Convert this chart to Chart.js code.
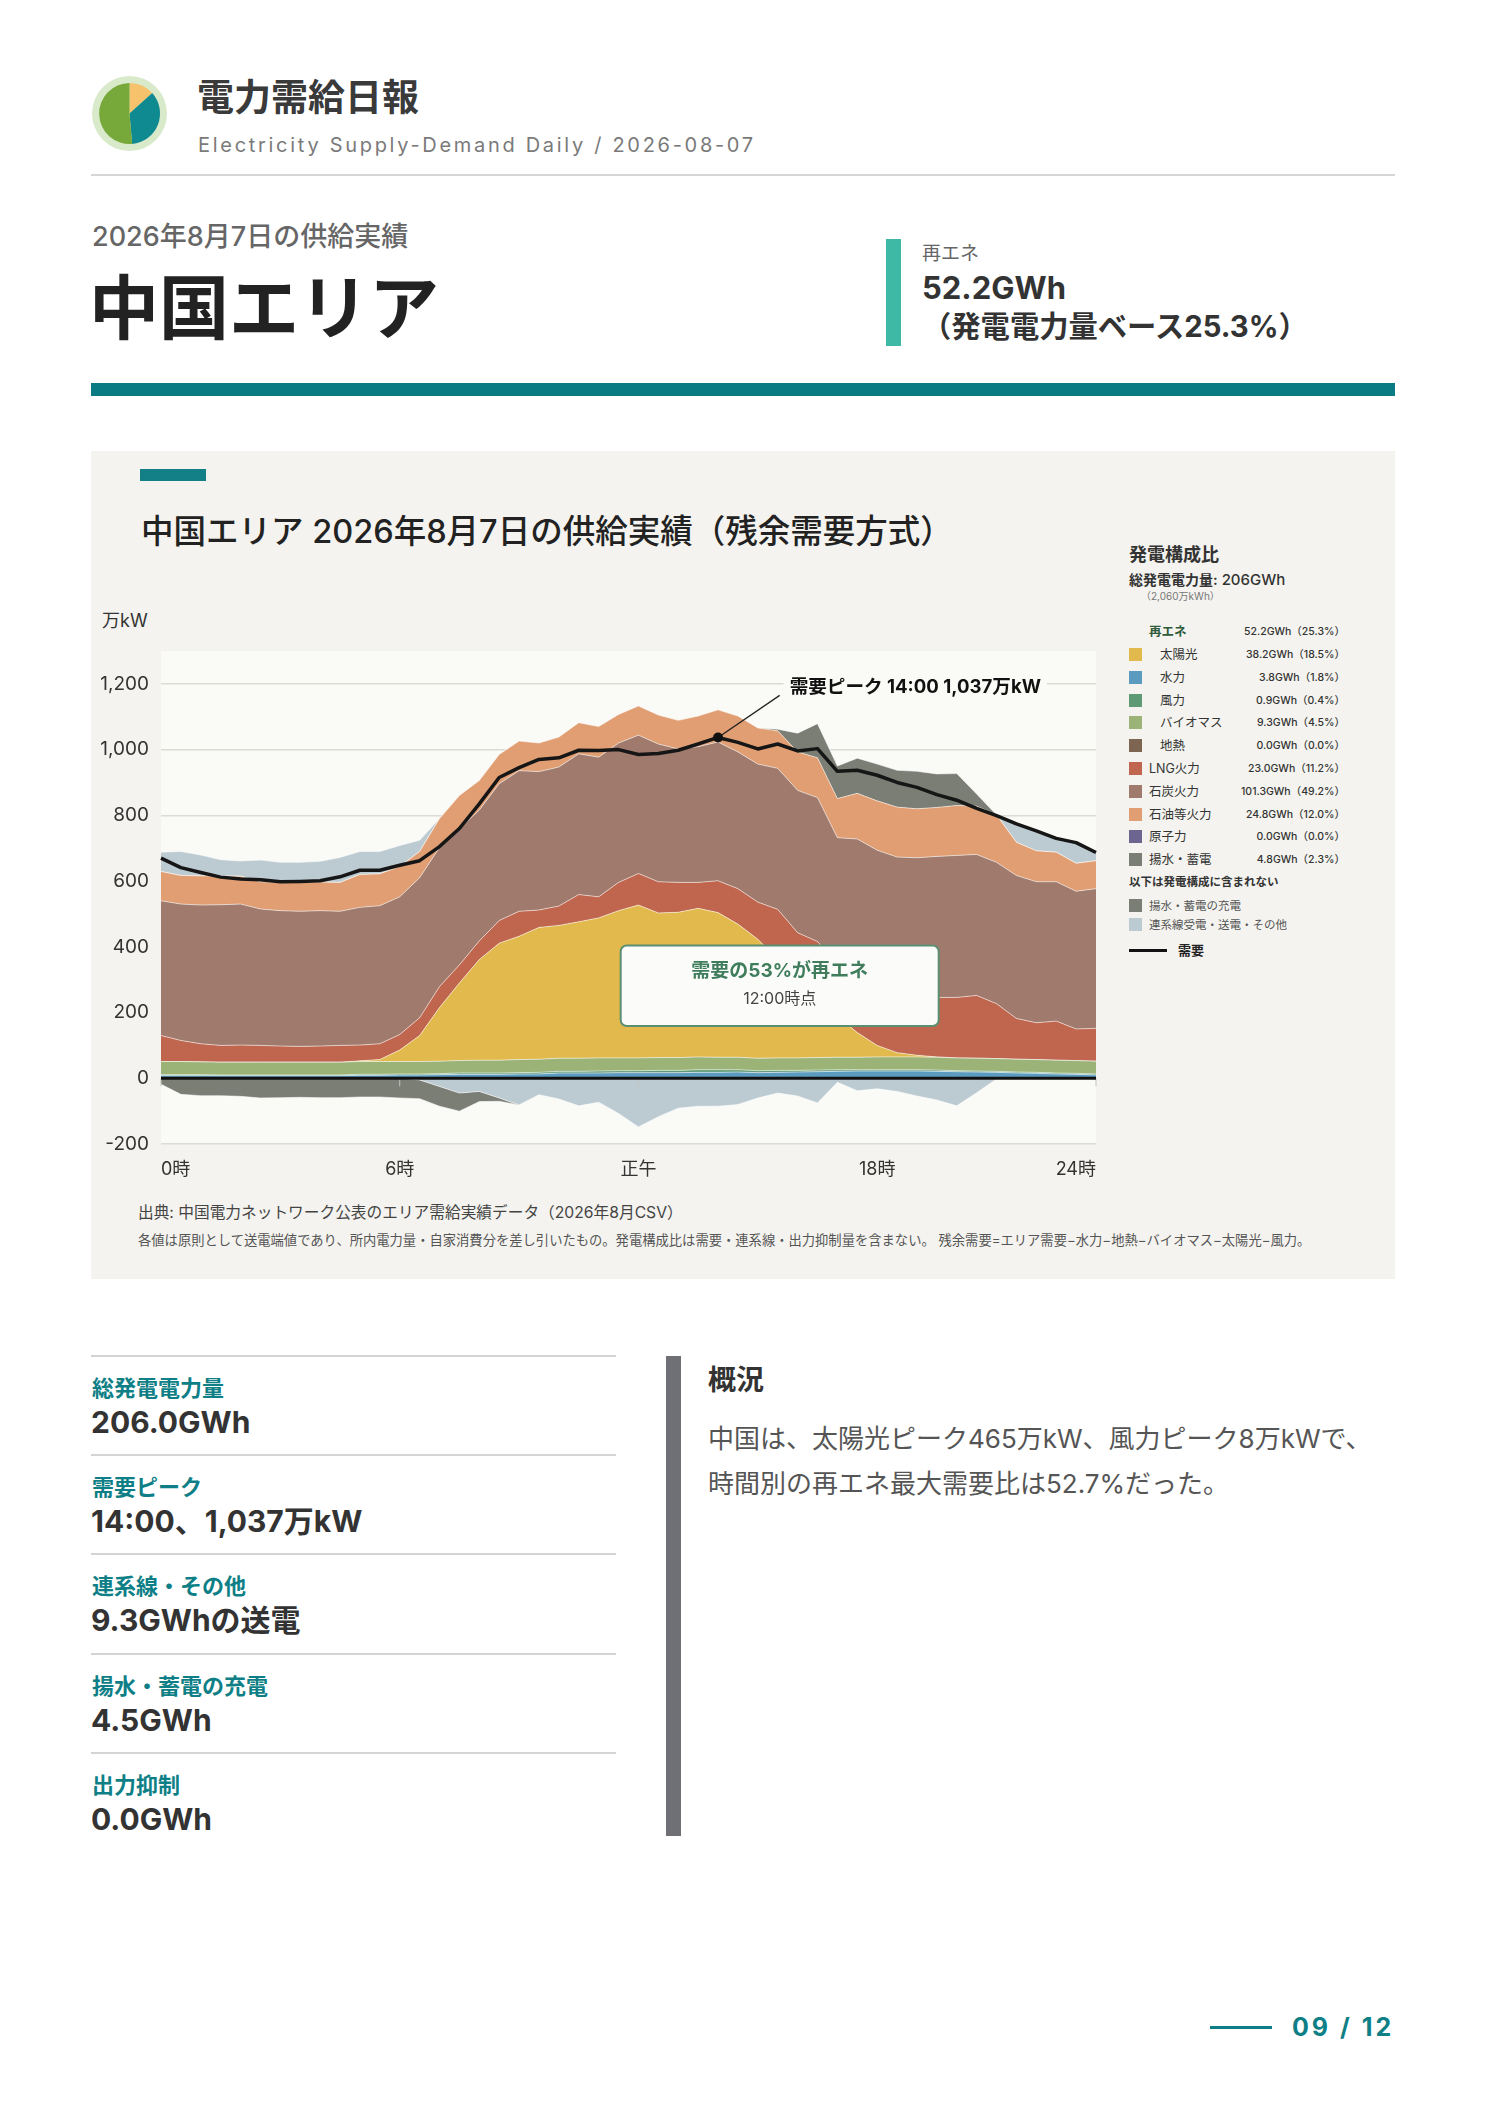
<!DOCTYPE html>
<html lang="ja">
<head>
<meta charset="utf-8">
<title>電力需給日報 中国エリア</title>
<script src="https://cdn.jsdelivr.net/npm/chart.js@4.4.1/dist/chart.umd.min.js"></script>
<style>
body { margin: 0; background: #fff; font-family: "Inter", "Noto Sans CJK JP", "Noto Sans", sans-serif; color: #333; }
.page { position: relative; width: 1488px; height: 2105px; overflow: hidden; background: #fff; }
.abs { position: absolute; white-space: nowrap; }
.panel { position: absolute; left: 91px; top: 451px; width: 1304px; height: 828px; background: #f4f3ef; }
#chartBox { position: absolute; left: 91px; top: 595px; width: 1022px; height: 595px; }
.lg-row { position: absolute; left: 1129px; width: 216px; height: 22px; font-size: 12.5px; line-height: 22px; color: #333; }
.lg-sw { position: absolute; left: 0; top: 4px; width: 13px; height: 13px; }
.lg-val { position: absolute; right: 0; top: 0; font-size: 10.5px; font-weight: 500; }
.stat-line { position: absolute; left: 91px; width: 525px; height: 2px; background: #d4d4d4; }
.stat-lbl { position: absolute; left: 92px; font-size: 22px; line-height: 30px; font-weight: 700; color: #0e7f86; white-space: nowrap; }
.stat-val { position: absolute; left: 91px; font-size: 30px; line-height: 38px; font-weight: 700; color: #333; white-space: nowrap; }
</style>
</head>
<body>
<div class="page">

  <svg class="abs" style="left:92px; top:76px;" width="75" height="75" viewBox="0 0 76 76">
    <circle cx="38" cy="38" r="38" fill="#d9eacb"/>
    <path d="M38 38 L38 7 A31 31 0 0 1 61.0 17.3 Z" fill="#f6c26b"/>
    <path d="M38 38 L61.0 17.3 A31 31 0 0 1 40.7 68.9 Z" fill="#0f8a90"/>
    <path d="M38 38 L40.7 68.9 A31 31 0 1 1 38 7 Z" fill="#77a93a"/>
  </svg>
  <div class="abs" style="left:197px; top:74px; font-size:37px; line-height:48px; font-weight:700; color:#3a3a3a;">電力需給日報</div>
  <div class="abs" style="left:198px; top:131px; font-size:20px; line-height:28px; letter-spacing:2.7px; color:#7a7a7a;">Electricity Supply-Demand Daily / 2026-08-07</div>
  <div class="abs" style="left:91px; top:174px; width:1304px; height:2px; background:#d6d6d6;"></div>

  <div class="abs" style="left:92px; top:219px; font-size:27px; line-height:36px; font-weight:500; color:#666;">2026年8月7日の供給実績</div>
  <div class="abs" style="left:89px; top:267px; font-size:70px; line-height:84px; font-weight:700; color:#222;">中国エリア</div>

  <div class="abs" style="left:886px; top:239px; width:15px; height:107px; background:#3db9a6;"></div>
  <div class="abs" style="left:922px; top:241px; font-size:19px; line-height:26px; color:#666;">再エネ</div>
  <div class="abs" style="left:922px; top:268px; font-size:31px; line-height:40px; font-weight:700; color:#333;">52.2GWh</div>
  <div class="abs" style="left:922px; top:308px; font-size:29.3px; line-height:38px; font-weight:700; color:#333;">（発電電力量ベース25.3%）</div>

  <div class="abs" style="left:91px; top:383px; width:1304px; height:13px; background:#0a7b82;"></div>

  <div class="panel"></div>
  <div class="abs" style="left:140px; top:469px; width:66px; height:12px; background:#137f87;"></div>
  <div class="abs" style="left:141px; top:511px; font-size:32.5px; line-height:42px; font-weight:500; color:#222;">中国エリア 2026年8月7日の供給実績（残余需要方式）</div>
  <div class="abs" style="left:102px; top:609px; font-size:18px; line-height:24px; color:#333;">万kW</div>
  <div id="chartBox"><canvas id="chart"></canvas></div>

  <div class="abs" style="left:138px; top:1202px; font-size:15.7px; line-height:22px; color:#444;">出典: 中国電力ネットワーク公表のエリア需給実績データ（2026年8月CSV）</div>
  <div class="abs" style="left:138px; top:1231px; font-size:13.3px; line-height:18px; color:#555;">各値は原則として送電端値であり、所内電力量・自家消費分を差し引いたもの。発電構成比は需要・連系線・出力抑制量を含まない。 残余需要=エリア需要−水力−地熱−バイオマス−太陽光−風力。</div>

  <div id="legend"></div>
  <div id="stats"></div>

  <div class="abs" style="left:666px; top:1356px; width:15px; height:480px; background:#6f7075;"></div>
  <div class="abs" style="left:708px; top:1361px; font-size:28px; line-height:38px; font-weight:700; color:#333;">概況</div>
  <div class="abs" style="left:708px; top:1417px; font-size:26px; line-height:44.6px; color:#555;">中国は、太陽光ピーク465万kW、風力ピーク8万kWで、<br>時間別の再エネ最大需要比は52.7%だった。</div>

  <div class="abs" style="left:1210px; top:2026px; width:62px; height:3px; background:#0e7f86;"></div>
  <div class="abs" style="left:1292px; top:2011px; font-size:25px; line-height:32px; font-weight:700; letter-spacing:3px; color:#0e7f86;">09 / 12</div>
</div>

<script>
// 30分値, 万kW
const timeLabels = ['0:00','0:30','1:00','1:30','2:00','2:30','3:00','3:30','4:00','4:30','5:00','5:30',
  '6:00','6:30','7:00','7:30','8:00','8:30','9:00','9:30','10:00','10:30','11:00','11:30',
  '12:00','12:30','13:00','13:30','14:00','14:30','15:00','15:30','16:00','16:30','17:00','17:30',
  '18:00','18:30','19:00','19:30','20:00','20:30','21:00','21:30','22:00','22:30','23:00','23:30'];
const xTickIdx = [0, 12, 24, 36, 47];
const xTickText = ['0時', '6時', '正午', '18時', '24時'];

const demand = [670,641,626,612,606,604,598,599,601,613,633,633,648,662,705,760,835,915,945,970,975,998,997,1000,
  985,988,998,1017,1037,1022,1002,1017,996,1003,934,937,922,900,885,863,846,821,799,774,753,730,717,687];
const hydro = [8,8,8,8,8,8,8,8,8,8,9,9,10,10,11,12,12,12,13,13,16,16,16,17,
  17,17,17,18,18,19,17,18,19,20,21,22,22,22,22,21,20,19,18,16,15,13,12,10];
const wind = [3,3,3,2,2,2,2,2,2,2,3,3,3,3,3,4,4,4,4,5,5,5,6,6,
  6,7,7,8,8,7,6,6,5,5,5,4,4,4,4,4,3,3,3,3,3,3,3,3];
const biomass = [40,40,39,39,39,39,39,39,39,39,39,39,38,38,38,38,39,39,40,40,40,40,40,39,
  39,39,39,39,38,38,38,38,38,38,38,38,39,39,39,39,39,39,39,39,39,39,39,39];
const geothermal = [0,0,0,0,0,0,0,0,0,0,0,0,0,0,0,0,0,0,0,0,0,0,0,0,
  0,0,0,0,0,0,0,0,0,0,0,0,0,0,0,0,0,0,0,0,0,0,0,0];
const solar = [0,0,0,0,0,0,0,0,0,0,2,6,35,79,163,236,306,356,375,401,404,415,426,448,
  465,440,442,452,440,405,362,300,240,180,125,75,35,13,5,1,0,0,0,0,0,0,0,0];
const lng = [79,64,55,51,52,51,49,48,49,51,48,48,47,54,64,55,57,69,76,53,59,83,64,86,
  96,95,91,79,97,108,113,152,141,173,161,171,185,184,180,181,184,191,167,124,112,119,96,100];
const coal = [410,415,422,428,429,415,412,411,412,408,419,420,419,426,423,415,398,416,428,421,423,428,425,424,
  421,419,406,413,422,416,420,429,433,438,382,418,409,411,421,429,432,429,430,435,429,424,419,425];
const oil = [89,87,89,87,85,83,86,88,87,88,100,97,92,80,88,100,90,89,90,87,91,95,93,87,
  89,88,87,93,98,109,110,114,117,121,119,139,150,152,149,149,152,147,144,101,94,90,85,85];
const nuclear = [0,0,0,0,0,0,0,0,0,0,0,0,0,0,0,0,0,0,0,0,0,0,0,0,
  0,0,0,0,0,0,0,0,0,0,0,0,0,0,0,0,0,0,0,0,0,0,0,0];
const pumpedGen = [0,0,0,0,0,0,0,0,0,0,0,0,0,0,0,0,0,0,0,0,0,0,0,0,
  0,0,0,0,0,0,0,5,57,104,99,107,112,112,114,102,97,37,0,0,0,0,0,0];
const tieImport = [59,73,63,50,46,66,61,61,63,76,70,68,64,34,0,0,0,0,0,0,0,0,0,0,
  0,0,0,0,0,0,0,0,0,0,0,0,0,0,0,0,0,0,0,56,61,42,63,25];
const tieExport = [0,0,0,0,0,0,0,0,0,0,0,0,0,-5,-25,-45,-40,-60,-81,-50,-63,-84,-73,-107,
  -148,-117,-91,-85,-85,-80,-60,-45,-54,-75,-12,-38,-32,-40,-54,-66,-84,-44,-2,0,0,0,0,0];
const pumpedCharge = [-18,-49,-53,-53,-55,-60,-59,-58,-59,-59,-57,-57,-60,-57,-60,-55,-31,-10,0,0,0,0,0,0,
  0,0,0,0,0,0,0,0,0,0,0,0,0,0,0,0,0,0,0,0,0,0,0,0];

const peakIdx = 28;
const peakText = '需要ピーク 14:00 1,037万kW';
const boxTitle = '需要の53%が再エネ';
const boxSub = '12:00時点';

// 凡例
const mixLabels = ['太陽光','水力','風力','バイオマス','地熱','LNG火力','石炭火力','石油等火力','原子力','揚水・蓄電'];
const mixGWh = ['38.2','3.8','0.9','9.3','0.0','23.0','101.3','24.8','0.0','4.8'];
const mixPct = ['18.5','1.8','0.4','4.5','0.0','11.2','49.2','12.0','0.0','2.3'];
const mixColors = ['#e2b94c','#5b9bbf','#5e9a74','#9cb377','#7e6552','#c0664f','#a07b6d','#e09e72','#6c6590','#7b7e75'];
const tieColor = '#bccbd2';

const statLabels = ['総発電電力量','需要ピーク','連系線・その他','揚水・蓄電の充電','出力抑制'];
const statValues = ['206.0GWh','14:00、1,037万kW','9.3GWhの送電','4.5GWh','0.0GWh'];

// legend
let lg = '';
lg += '<div class="abs" style="left:1129px; top:543px; font-size:18px; line-height:24px; font-weight:700; color:#333;">発電構成比</div>';
lg += '<div class="abs" style="left:1129px; top:570px; font-size:14px; line-height:20px; color:#333;"><b>総発電電力量:</b> <span style="font-size:15px; font-weight:500;">206GWh</span></div>';
lg += '<div class="abs" style="left:1141px; top:589px; font-size:10px; line-height:14px; color:#777;">（2,060万kWh）</div>';
lg += '<div class="lg-row" style="top:621px;"><span style="position:absolute; left:20px; font-weight:700; color:#2d5a3a;">再エネ</span><span class="lg-val">52.2GWh（25.3%）</span></div>';
mixLabels.forEach((name, i) => {
  const top = Math.round(644 + i * 22.8);
  const indent = i < 5 ? 31 : 20;
  lg += '<div class="lg-row" style="top:' + top + 'px;"><span class="lg-sw" style="background:' + mixColors[i] + ';"></span>' +
        '<span style="position:absolute; left:' + indent + 'px;">' + name + '</span>' +
        '<span class="lg-val">' + mixGWh[i] + 'GWh（' + mixPct[i] + '%）</span></div>';
});
lg += '<div class="abs" style="left:1129px; top:873px; font-size:11.5px; line-height:18px; font-weight:700; color:#333;">以下は発電構成に含まれない</div>';
lg += '<div class="lg-row" style="top:895px; font-size:11.5px; color:#555;"><span class="lg-sw" style="background:' + mixColors[9] + ';"></span><span style="position:absolute; left:20px;">揚水・蓄電の充電</span></div>';
lg += '<div class="lg-row" style="top:914px; font-size:11.5px; color:#555;"><span class="lg-sw" style="background:' + tieColor + ';"></span><span style="position:absolute; left:20px;">連系線受電・送電・その他</span></div>';
lg += '<div class="abs" style="left:1129px; top:949px; width:38px; height:3px; background:#111;"></div>';
lg += '<div class="abs" style="left:1178px; top:939px; font-size:13px; line-height:22px; font-weight:700; color:#222;">需要</div>';
document.getElementById('legend').innerHTML = lg;

// stats
let st = '';
statLabels.forEach((name, i) => {
  const top = Math.round(1355 + i * 99.2);
  st += '<div class="stat-line" style="top:' + top + 'px;"></div>';
  st += '<div class="stat-lbl" style="top:' + (top + 18) + 'px;">' + name + '</div>';
  st += '<div class="stat-val" style="top:' + (top + 48) + 'px;">' + statValues[i] + '</div>';
});
document.getElementById('stats').innerHTML = st;

// chart
const FONT = '"Inter", "Noto Sans CJK JP", "Noto Sans", sans-serif';
Chart.defaults.font.family = FONT;
const PLOT_BG = '#fafaf6';
const SEP = 'rgba(255,255,255,0.55)';

function area(label, data, color, fill, stack) {
  const empty = data.every(v => v === 0);
  return {
    label: label, data: data, stack: stack, fill: fill,
    backgroundColor: color, borderColor: SEP, borderWidth: empty ? 0 : 1,
    pointRadius: 0, tension: 0
  };
}

const plotBg = {
  id: 'plotBg',
  beforeDraw(chart) {
    const { ctx, chartArea: a } = chart;
    ctx.save();
    ctx.fillStyle = PLOT_BG;
    ctx.fillRect(a.left, a.top, a.width, a.height);
    ctx.restore();
  }
};

const overlay = {
  id: 'overlay',
  afterDatasetsDraw(chart) {
    const { ctx, chartArea: a, scales: { x, y } } = chart;
    const y0 = y.getPixelForValue(0);
    ctx.save();
    ctx.strokeStyle = '#c4c4bf';
    ctx.lineWidth = 1;
    xTickIdx.forEach(i => {
      const px = x.getPixelForValue(i);
      ctx.beginPath(); ctx.moveTo(px, y0); ctx.lineTo(px, y0 + 8); ctx.stroke();
    });
    ctx.strokeStyle = '#111';
    ctx.lineWidth = 3;
    ctx.beginPath(); ctx.moveTo(a.left, y0); ctx.lineTo(a.right, y0); ctx.stroke();

    // peak marker
    const pt = chart.getDatasetMeta(0).data[peakIdx];
    const lx = x.getPixelForValue(31.1), ly = y.getPixelForValue(1165);
    ctx.strokeStyle = '#222';
    ctx.lineWidth = 1.3;
    ctx.beginPath(); ctx.moveTo(pt.x, pt.y); ctx.lineTo(lx, ly); ctx.stroke();
    ctx.fillStyle = '#111';
    ctx.beginPath(); ctx.arc(pt.x, pt.y, 5, 0, Math.PI * 2); ctx.fill();
    ctx.font = '700 18.6px ' + FONT;
    const tx = x.getPixelForValue(31.6), ty = y.getPixelForValue(1188);
    const tw = ctx.measureText(peakText).width;
    ctx.fillStyle = PLOT_BG;
    ctx.fillRect(tx - 6, ty - 13, tw + 12, 26);
    ctx.fillStyle = '#111';
    ctx.textBaseline = 'middle';
    ctx.fillText(peakText, tx, ty);

    // renewable share box
    const bx = x.getPixelForValue(31.1);
    const bt = y.getPixelForValue(404), bb = y.getPixelForValue(159);
    const bw = 318;
    ctx.beginPath();
    ctx.roundRect(bx - bw / 2, bt, bw, bb - bt, 6);
    ctx.fillStyle = '#fbfbf9';
    ctx.fill();
    ctx.strokeStyle = '#5b8f72';
    ctx.lineWidth = 2;
    ctx.stroke();
    ctx.textAlign = 'center';
    ctx.fillStyle = '#3f7d5c';
    ctx.font = '700 19px ' + FONT;
    ctx.fillText(boxTitle, bx, y.getPixelForValue(327));
    ctx.fillStyle = '#444';
    ctx.font = '400 16px ' + FONT;
    ctx.fillText(boxSub, bx, y.getPixelForValue(241));
    ctx.restore();
  }
};

new Chart(document.getElementById('chart'), {
  type: 'line',
  data: {
    labels: timeLabels,
    datasets: [
      { label: '需要', data: demand, stack: 'demand', fill: false, borderColor: '#161616', borderWidth: 3.5,
        borderJoinStyle: 'round', pointRadius: 0, tension: 0 },
      area('連系線送電', tieExport, tieColor, 'origin', 'neg'),
      area('揚水・蓄電の充電', pumpedCharge, mixColors[9], '-1', 'neg'),
      area('水力', hydro, mixColors[1], 'origin', 'pos'),
      area('風力', wind, mixColors[2], '-1', 'pos'),
      area('バイオマス', biomass, mixColors[3], '-1', 'pos'),
      area('地熱', geothermal, mixColors[4], '-1', 'pos'),
      area('太陽光', solar, mixColors[0], '-1', 'pos'),
      area('LNG火力', lng, mixColors[5], '-1', 'pos'),
      area('石炭火力', coal, mixColors[6], '-1', 'pos'),
      area('石油等火力', oil, mixColors[7], '-1', 'pos'),
      area('原子力', nuclear, mixColors[8], '-1', 'pos'),
      area('揚水・蓄電', pumpedGen, mixColors[9], '-1', 'pos'),
      area('連系線受電', tieImport, tieColor, '-1', 'pos')
    ]
  },
  options: {
    responsive: true,
    maintainAspectRatio: false,
    animation: false,
    layout: { padding: { top: 56, right: 17, left: 0, bottom: 0 } },
    plugins: { legend: { display: false }, tooltip: { enabled: false } },
    scales: {
      x: {
        type: 'category',
        offset: false,
        grid: { display: false },
        border: { display: false },
        ticks: {
          autoSkip: false, maxRotation: 0, minRotation: 0, align: 'inner', padding: 7,
          color: '#333', font: { size: 18 },
          callback: (v, i) => { const k = xTickIdx.indexOf(i); return k >= 0 ? xTickText[k] : ''; }
        },
        afterFit(s) { s.height = 46; }
      },
      y: {
        stacked: true,
        min: -200,
        max: 1300,
        border: { display: false },
        grid: {
          color: c => (c.tick && c.tick.value === 0) ? 'rgba(0,0,0,0)' : '#dcdcd6',
          lineWidth: 1.5,
          drawTicks: false
        },
        ticks: {
          stepSize: 200, includeBounds: false, padding: 12,
          color: '#333', font: { size: 19 },
          callback: v => v.toLocaleString('en-US')
        },
        afterFit(s) { s.width = 70; }
      }
    }
  },
  plugins: [plotBg, overlay]
});
</script>
</body>
</html>
